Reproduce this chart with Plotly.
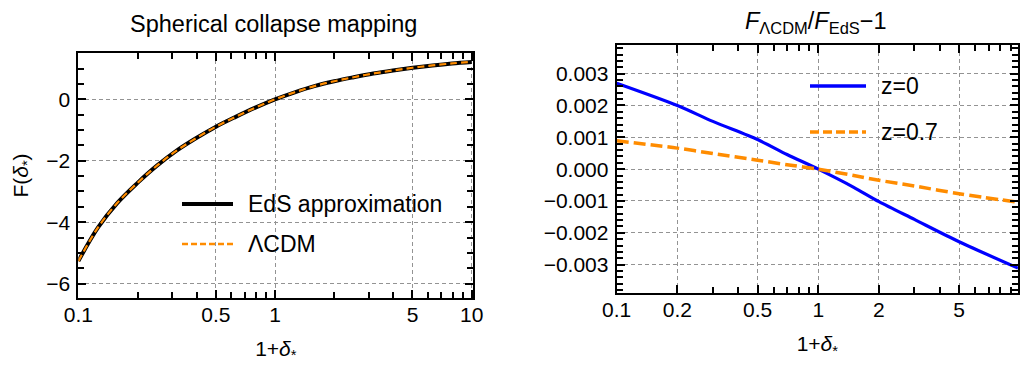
import plotly.graph_objects as go

# ---------------- data ----------------
delta_left = [0.1, 0.126, 0.158, 0.2, 0.251, 0.316, 0.398, 0.501, 0.631, 0.794, 1.0,
              1.26, 1.585, 2.0, 2.51, 3.16, 3.98, 5.01, 6.31, 7.94, 10.0]
f_eds = [-5.27, -4.17, -3.37, -2.72, -2.16, -1.67, -1.26, -0.89, -0.57, -0.27, 0.0,
         0.23, 0.43, 0.59, 0.72, 0.84, 0.94, 1.03, 1.105, 1.17, 1.22]
f_lcdm = [-5.27, -4.17, -3.37, -2.72, -2.16, -1.67, -1.26, -0.89, -0.57, -0.27, 0.0,
          0.23, 0.43, 0.59, 0.72, 0.84, 0.94, 1.03, 1.105, 1.17, 1.22]

delta_right = [0.1, 0.2, 0.3, 0.5, 0.7, 1.0, 1.5, 2.0, 3.0, 5.0, 9.8]
ratio_z0 = [0.0027, 0.0020, 0.00150, 0.00093, 0.00046, 0.0, -0.00057, -0.00102, -0.00158, -0.00228, -0.00311]
ratio_z07 = [0.00089, 0.00066, 0.00049, 0.00028, 0.00014, 0.0, -0.0002, -0.00035, -0.00053, -0.00077, -0.00104]

left_xticks = [0.1, 0.5, 1, 5, 10]
left_xticktext = ["0.1", "0.5", "1", "5", "10"]
left_xminor = [0.2, 0.3, 0.4, 0.6, 0.7, 0.8, 0.9, 2, 3, 4, 6, 7, 8, 9]
left_yticks = [-6, -4, -2, 0]
left_yticktext = ["\u22126", "\u22124", "\u22122", "0"]

right_xticks = [0.1, 0.2, 0.5, 1, 2, 5]
right_xticktext = ["0.1", "0.2", "0.5", "1", "2", "5"]
right_xminor = [0.3, 0.4, 0.6, 0.7, 0.8, 0.9, 3, 4, 6, 7, 8, 9]
right_yticks = [-0.003, -0.002, -0.001, 0.0, 0.001, 0.002, 0.003]
right_yticktext = ["\u22120.003", "\u22120.002", "\u22120.001", "0.000", "0.001", "0.002", "0.003"]

FONT = "Liberation Sans, Arial, sans-serif"
ORANGE = "#FF8C00"
GRID = "#939393"
TICKSIZE = 21

fig = go.Figure()
fig.add_trace(go.Scatter(x=delta_left, y=f_eds, mode="lines", line=dict(color="black", width=4, shape="spline"),
                         xaxis="x", yaxis="y", showlegend=False, name="EdS approximation"))
fig.add_trace(go.Scatter(x=delta_left, y=f_lcdm, mode="lines",
                         line=dict(color=ORANGE, width=2.2, dash="7px,4px", shape="spline"),
                         xaxis="x", yaxis="y", showlegend=False, name="\u039bCDM"))
fig.add_trace(go.Scatter(x=delta_right, y=ratio_z0, mode="lines",
                         line=dict(color="#0000FF", width=3.2, shape="spline", smoothing=0.8),
                         xaxis="x2", yaxis="y2", showlegend=False, name="z=0"))
fig.add_trace(go.Scatter(x=delta_right, y=ratio_z07, mode="lines",
                         line=dict(color=ORANGE, width=3.5, dash="12px,5px", shape="spline", smoothing=0.8),
                         xaxis="x2", yaxis="y2", showlegend=False, name="z=0.7"))


def axis_common():
    return dict(ticks="inside", ticklen=8, tickwidth=1.6, tickcolor="black", automargin=False,
                showline=True, linewidth=2, linecolor="black", mirror="allticks",
                showgrid=True, gridcolor=GRID, gridwidth=1, griddash="4px,3px",
                zeroline=False, tickfont=dict(family=FONT, size=TICKSIZE, color="black"))


minor_style = dict(ticks="inside", ticklen=6, tickwidth=1.6, tickcolor="black", showgrid=False)
title_font = dict(family=FONT, size=21, color="black")

xl = axis_common()
xl.update(type="log", range=[-1, 1.008], domain=[0.0768, 0.464], anchor="y",
          tickmode="array", tickvals=left_xticks, ticktext=left_xticktext, ticklabelstandoff=-3,
          minor=dict(tickmode="array", tickvals=left_xminor, **minor_style),
          title=dict(text="1+<i>\u03b4</i><sub>*</sub>", font=title_font, standoff=16))
yl = axis_common()
yl.update(range=[-6.47, 1.51], domain=[0.1946, 0.8568], anchor="x",
          tickmode="array", tickvals=left_yticks, ticktext=left_yticktext, ticklabelstandoff=2,
          minor=dict(dtick=0.5, tick0=0, **minor_style),
          title=dict(text="F(<i>\u03b4</i><sub>*</sub>)", font=title_font, standoff=12))
xr = axis_common()
xr.update(type="log", range=[-1, 0.991], domain=[0.6046, 0.998], anchor="y2",
          tickmode="array", tickvals=right_xticks, ticktext=right_xticktext, ticklabelstandoff=-3,
          minor=dict(tickmode="array", tickvals=right_xminor, **minor_style),
          title=dict(text="1+<i>\u03b4</i><sub>*</sub>", font=title_font, standoff=16))
yr = axis_common()
yr.update(range=[-0.0039, 0.0039], domain=[0.2073, 0.8784], anchor="x2",
          tickmode="array", tickvals=right_yticks, ticktext=right_yticktext, ticklabelstandoff=2,
          minor=dict(dtick=0.0002, tick0=0, **minor_style))

fig.update_layout(
    width=1020, height=370,
    margin=dict(l=0, r=0, t=0, b=0, autoexpand=False),
    paper_bgcolor="white", plot_bgcolor="white",
    font=dict(family=FONT, size=20, color="black"),
    xaxis=xl, yaxis=yl, xaxis2=xr, yaxis2=yr,
    showlegend=False,
)

# titles
fig.add_annotation(text="Spherical collapse mapping", x=0.2686, y=1 - 24 / 370, xref="paper", yref="paper",
                   showarrow=False, font=dict(family=FONT, size=23.5, color="black"), xanchor="center", yanchor="middle")
fig.add_annotation(text="<i>F</i><sub>\u039bCDM</sub>/<i>F</i><sub>EdS</sub>\u22121", x=0.8, y=1 - 22 / 370,
                   xref="paper", yref="paper", showarrow=False, font=dict(family=FONT, size=23.5, color="black"),
                   xanchor="center", yanchor="middle")

# legends (drawn manually to match the reference placement)
def legend_item(x0, x1, yc, color, width, dash, label):
    fig.add_shape(type="line", xref="paper", yref="paper", x0=x0 / 1020, x1=x1 / 1020,
                  y0=1 - yc / 370, y1=1 - yc / 370, line=dict(color=color, width=width, dash=dash))
    fig.add_annotation(text=label, x=(x1 + 13) / 1020, y=1 - yc / 370, xref="paper", yref="paper",
                       showarrow=False, xanchor="left", yanchor="middle",
                       font=dict(family=FONT, size=23, color="black"))

legend_item(182, 233, 204, "black", 4, "solid", "EdS approximation")
legend_item(182, 233, 244, ORANGE, 2.5, "6px,3px", "\u039bCDM")
legend_item(810, 866, 86, "#0000FF", 3.5, "solid", "z=0")
legend_item(810, 866, 132, ORANGE, 3.5, "9px,4px", "z=0.7")

fig.write_html("out.html", config={"displayModeBar": False},
               post_script="document.body.style.margin='0px';document.body.style.padding='0px';")
